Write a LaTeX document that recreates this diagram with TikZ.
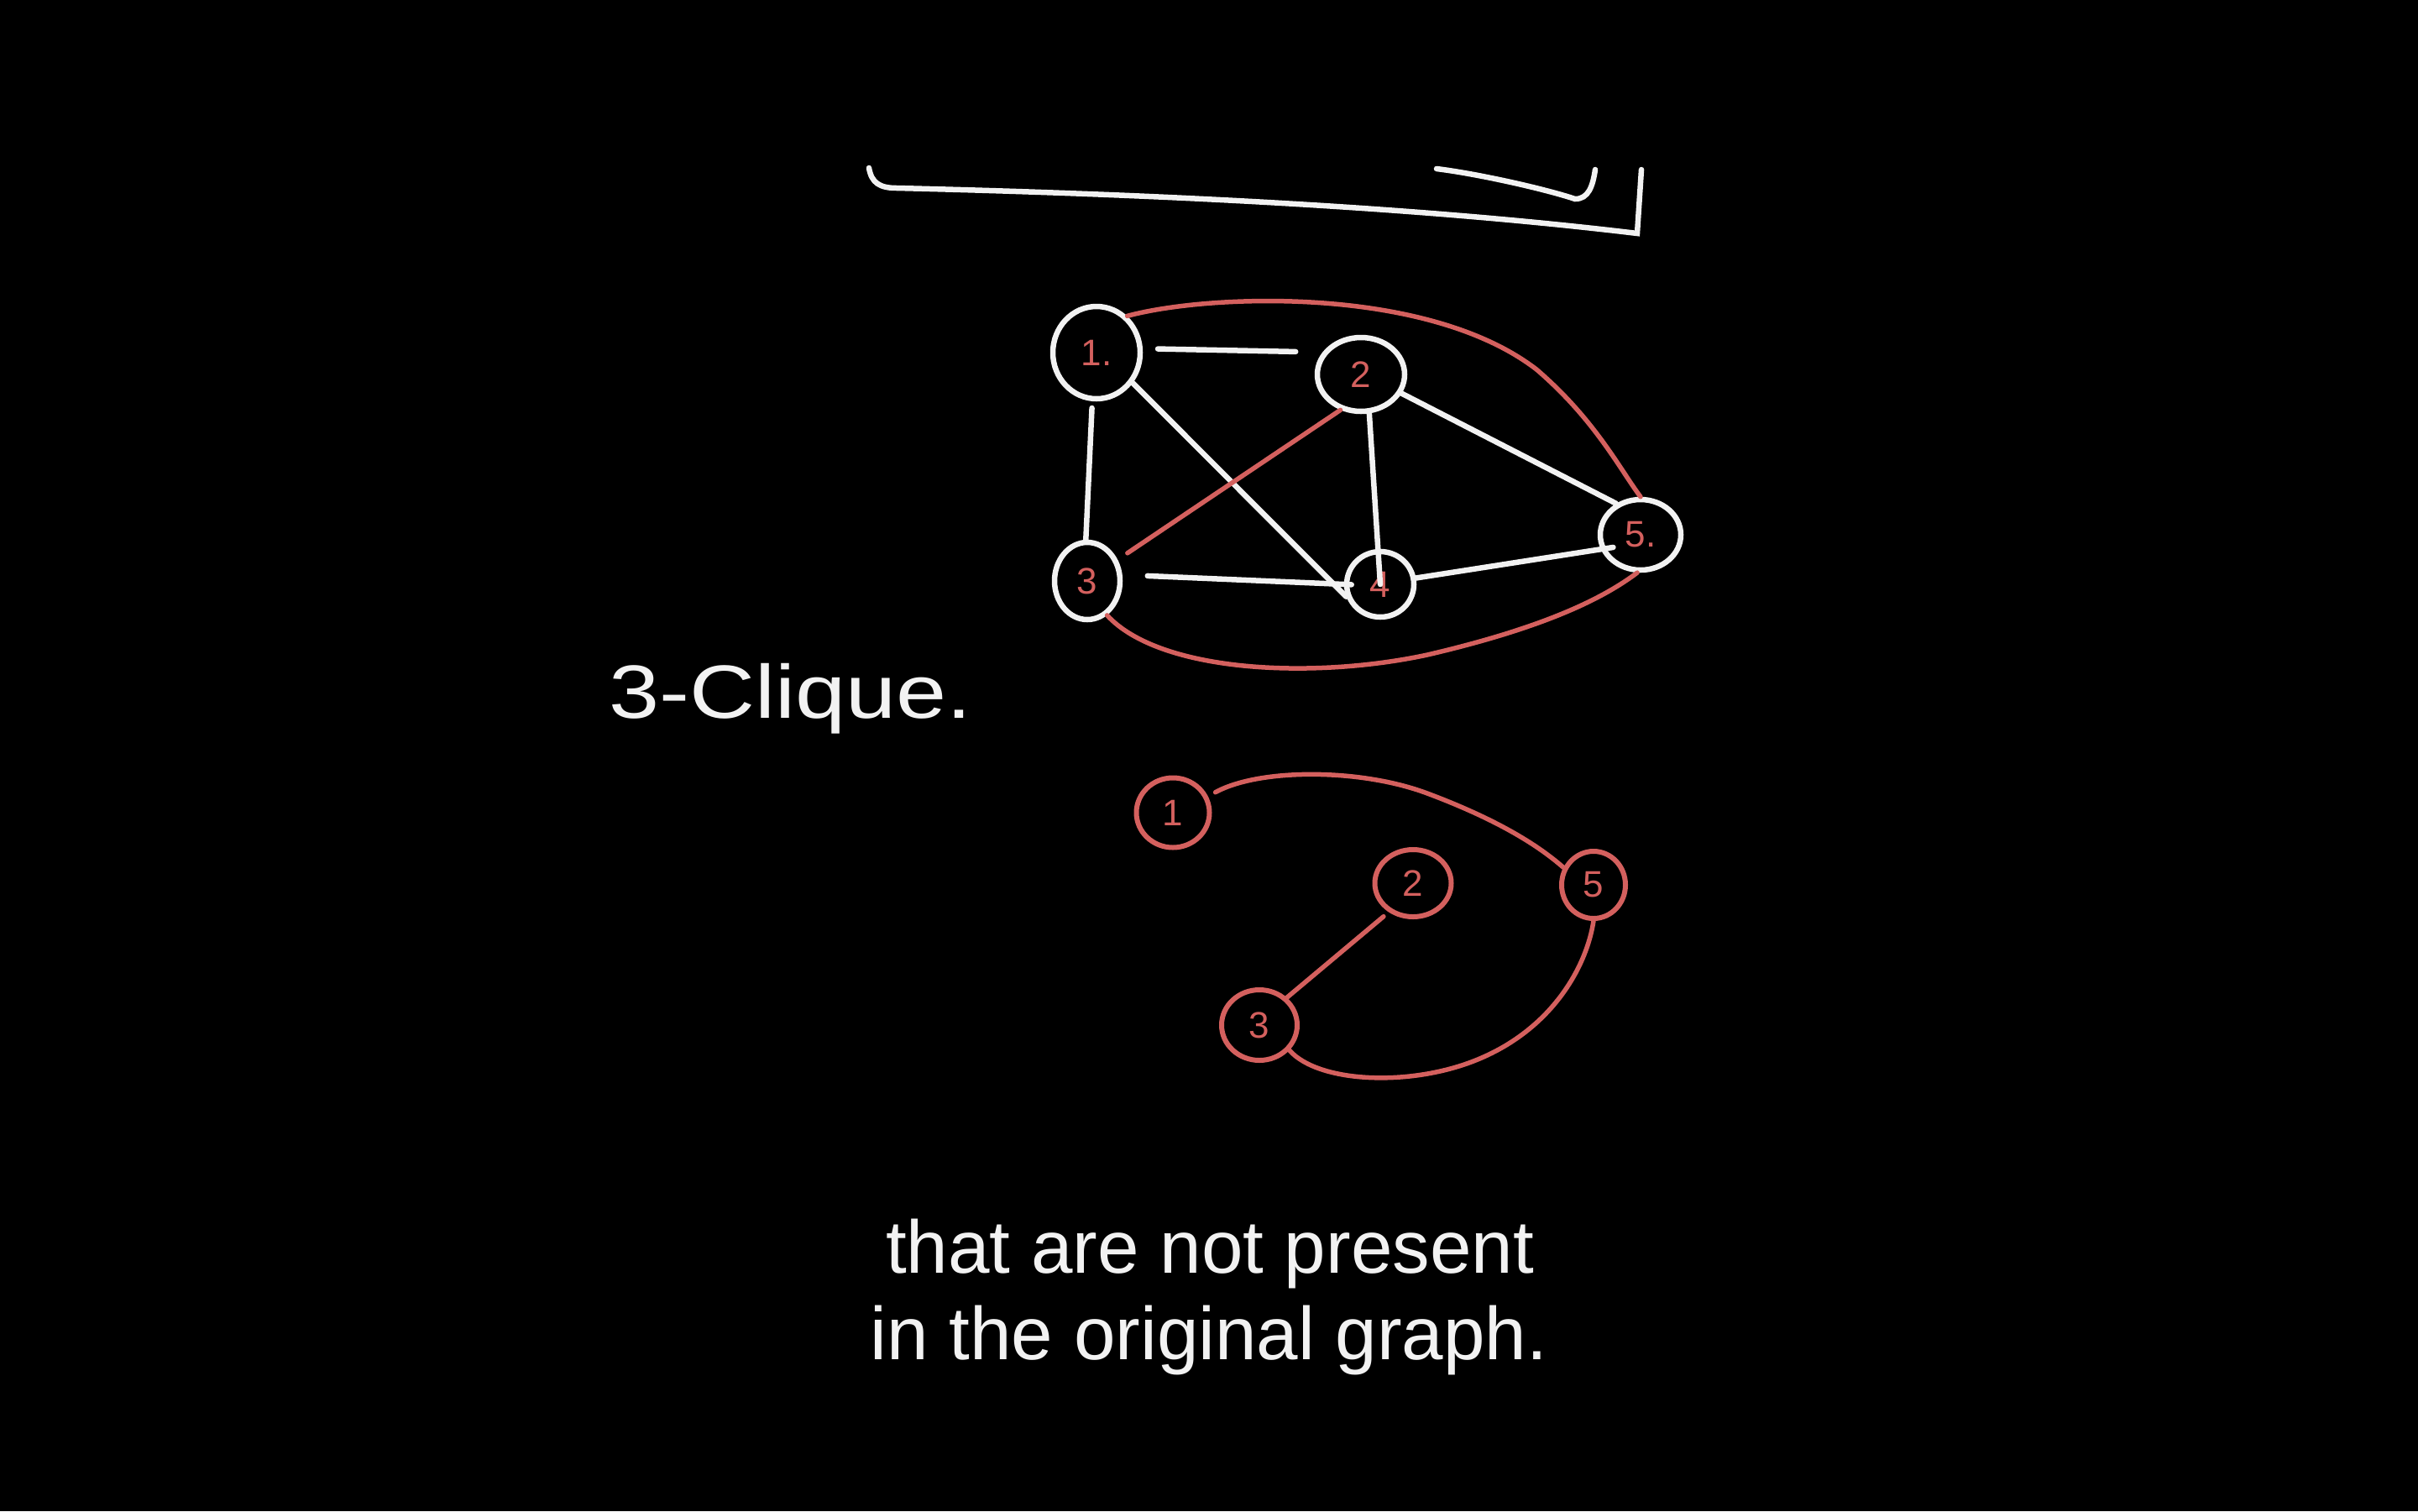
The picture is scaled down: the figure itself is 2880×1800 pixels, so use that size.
\documentclass[tikz,border=0pt]{standalone}
\usepackage{fontspec}
\setmainfont{Liberation Sans}
\usetikzlibrary{shapes.geometric}
\definecolor{chalk}{RGB}{242,242,242}
\definecolor{redchalk}{RGB}{212,96,94}
\begin{document}
\begin{tikzpicture}[x=1pt,y=-1pt,
  vtx/.style={ellipse, draw=chalk, line width=6.5pt, inner sep=0pt, text=redchalk,
    font=\fontsize{44}{46}\selectfont},
  rvtx/.style={ellipse, draw=redchalk, line width=6pt, inner sep=0pt, text=redchalk,
    font=\fontsize{44}{46}\selectfont},
  wedge/.style={draw=chalk, line width=6.5pt, line cap=round},
  redge/.style={draw=redchalk, line width=5.5pt, line cap=round},
  caption/.style={text=chalk, font=\fontsize{89}{100}\selectfont, anchor=base, inner sep=0pt}]
\fill[black] (0,0) rectangle (2880,1800);
\useasboundingbox (0,0) rectangle (2880,1800);

% top bracket strokes
\draw[wedge] (1035,200) .. controls (1038,218) and (1048,224) .. (1068,224)
  .. controls (1400,232) and (1700,248) .. (1950,278) -- (1955,202);
\draw[wedge] (1711,201) .. controls (1760,207) and (1840,225) .. (1876,237)
  .. controls (1892,237) and (1897,222) .. (1900,202);

% top graph
\node[vtx, minimum width=104pt, minimum height=110pt] (t1) at (1306,420) {1.};
\node[vtx, minimum width=104pt, minimum height=88pt] (t2) at (1621,446) {2};
\node[vtx, minimum width=78pt, minimum height=92pt] (t3) at (1295,692) {3};
\node[vtx, minimum width=80pt, minimum height=78pt] (t4) at (1644,696) {4};
\node[vtx, minimum width=96pt, minimum height=84pt] (t5) at (1954,637) {5.};

\draw[wedge, shorten <=18pt, shorten >=32pt] (t1.5) -- (t2.150);
\draw[wedge, shorten <=8pt] (t1.-95) -- (t3.92);
\draw[wedge] (t1.-40) -- (t4.200);
\draw[wedge] (t2.-78) -- (t4.center);
\draw[wedge] (t2.-25) -- (t5.128);
\draw[wedge, shorten <=30pt, shorten >=-9pt] (t3.10) -- (t4.180);
\draw[wedge, shorten >=-15pt] (t4.10) -- (t5.200);

\draw[redge] (t1.50) .. controls (1440,350) and (1700,340) .. (1830,440)
  .. controls (1900,500) and (1930,560) .. (t5.90);
\draw[redge] (t3.-60) .. controls (1380,800) and (1560,810) .. (1700,780)
  .. controls (1820,752) and (1900,720) .. (t5.-95);
\draw[redge, shorten >=14pt] (t2.-120) -- (t3.35);

% label
\node[text=chalk, font=\fontsize{90}{100}\selectfont, anchor=base west, xscale=1.2, inner sep=0pt]
  (clique) at (725,855) {3-Clique.};

% bottom graph
\node[rvtx, minimum width=87pt, minimum height=83pt] (b1) at (1397,968) {1};
\node[rvtx, minimum width=91pt, minimum height=80pt] (b2) at (1683,1052) {2};
\node[rvtx, minimum width=76pt, minimum height=80pt] (b5) at (1898,1054) {5};
\node[rvtx, minimum width=90pt, minimum height=84pt] (b3) at (1500,1221) {3};

\draw[redge, shorten <=10pt] (b1.25) .. controls (1500,915) and (1620,915) .. (1700,945)
  .. controls (1780,975) and (1830,1005) .. (b5.150);
\draw[redge, shorten <=8pt] (b2.-130) -- (b3.45);
\draw[redge] (b3.-40) .. controls (1570,1290) and (1680,1295) .. (1760,1262)
  .. controls (1850,1225) and (1890,1150) .. (b5.-90);

% caption
\node[caption] (cap1) at (1441,1516) {that are not present};
\node[caption] (cap2) at (1440,1619) {in the original graph.};
\end{tikzpicture}
\end{document}
